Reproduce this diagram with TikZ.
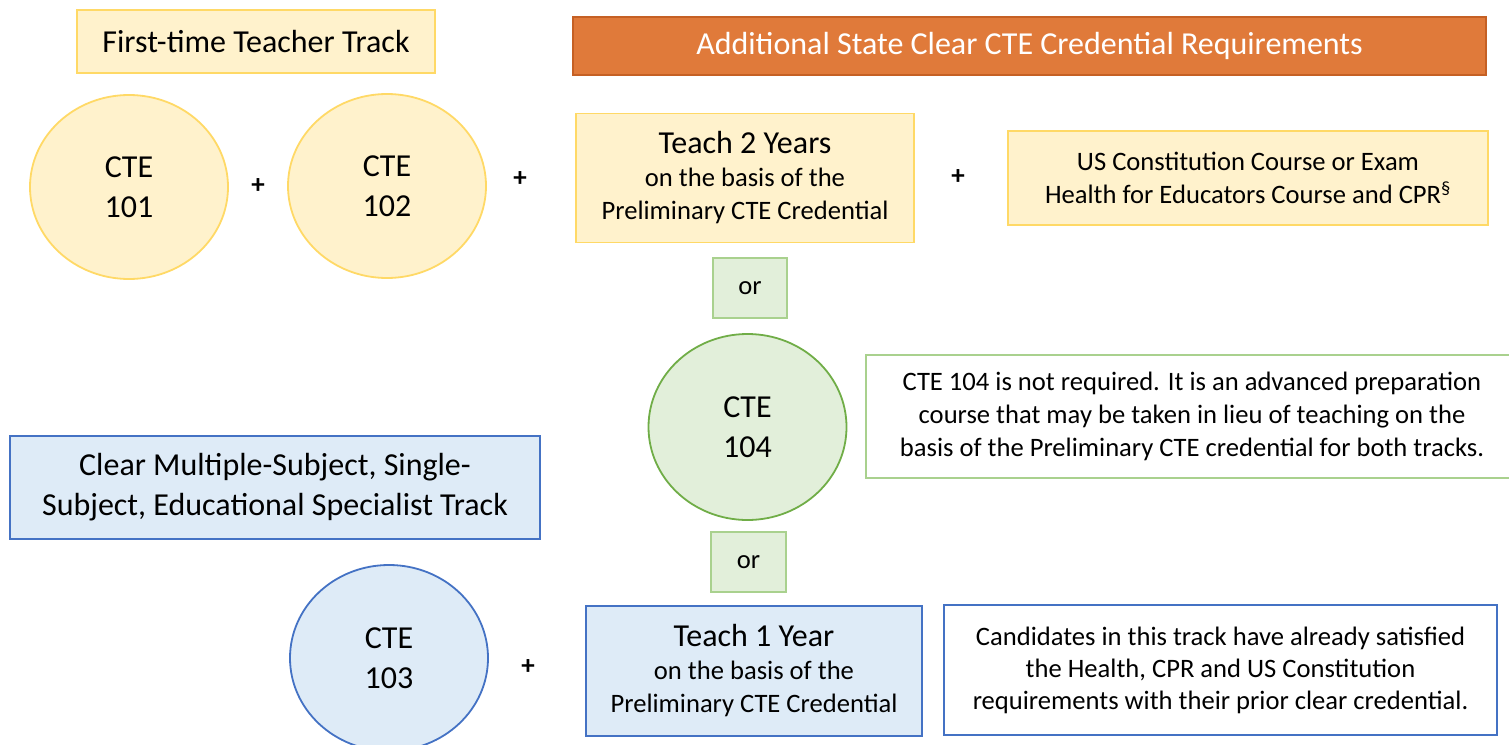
\documentclass[tikz,border=0pt]{standalone}
\usepackage{fontspec}
\setmainfont{Carlito}
\usepackage{tikz}
\usetikzlibrary{shapes.geometric, positioning}
\definecolor{myyellow}{RGB}{255,242,204}
\definecolor{myyellowfr}{RGB}{255,217,102}
\definecolor{myorange}{RGB}{224,122,58}
\definecolor{myorangefr}{RGB}{197,96,36}
\definecolor{mygreen}{RGB}{226,239,218}
\definecolor{mygreenfr}{RGB}{169,209,142}
\definecolor{mygreendk}{RGB}{112,173,71}
\definecolor{myblue}{RGB}{222,235,247}
\definecolor{mybluefr}{RGB}{68,114,196}
\newcommand{\bigtxt}{\fontsize{32}{40}\selectfont}
\newcommand{\smalltxt}{\fontsize{26.6}{33}\selectfont}
\tikzset{
  ybox/.style={rectangle, draw=myyellowfr, fill=myyellow, align=center,
    line width=1.8pt, inner sep=0pt},
  gbox/.style={rectangle, draw=mygreenfr, fill=mygreen, align=center,
    line width=1.8pt, inner sep=0pt, font=\smalltxt},
  bbox/.style={rectangle, draw=mybluefr, fill=myblue, align=center,
    line width=1.8pt, inner sep=0pt},
  course/.style={ellipse, line width=1.8pt, inner sep=0pt,
    minimum width=198pt, minimum height=184pt, align=center, font=\bigtxt},
  plus/.style={font=\fontsize{27}{27}\selectfont\bfseries}
}

\begin{document}
\begin{tikzpicture}[x=1pt, y=1pt]
  \useasboundingbox (0,0) rectangle (1509,-744);

  % ── First-time teacher track ───────────────────────────────────────────────
  \node[ybox, minimum width=358pt, minimum height=63pt, font=\bigtxt]
    (ftrack) at (256,-41.5) {First-time Teacher Track};
  \node[course, draw=myyellowfr, fill=myyellow] (c101) at (129,-187) {CTE\\101};
  \node[course, draw=myyellowfr, fill=myyellow] (c102) at (387,-186) {CTE\\102};
  \node[plus] (p1) at (258,-186) {+};
  \node[plus] (p2) at (520,-179) {+};

  % ── State requirements ─────────────────────────────────────────────────────
  \node[rectangle, draw=myorangefr, fill=myorange, line width=1.2pt,
    minimum width=913pt, minimum height=58pt, font=\bigtxt\color{white}]
    (state) at (1029.5,-46) {Additional State Clear CTE Credential Requirements};
  \node[ybox, minimum width=338pt, minimum height=129pt, font=\smalltxt]
    (teach2) at (745,-178) {{\bigtxt Teach 2 Years}\\on the basis of the\\Preliminary CTE Credential};
  \node[plus] (p3) at (958,-177) {+};
  \node[ybox, minimum width=480pt, minimum height=94pt, font=\smalltxt]
    (uscon) at (1248,-178) {US Constitution Course or Exam\\Health for Educators Course and CPR\textsuperscript{§}};

  % ── CTE 104 alternative ────────────────────────────────────────────────────
  \node[gbox, minimum width=74pt, minimum height=60pt] (or1) at (750,-288) {or};
  \node[course, draw=mygreendk, fill=mygreen, minimum height=186pt]
    (c104) at (747.5,-427) {CTE\\104};
  \node[rectangle, draw=mygreenfr, fill=white, line width=1.8pt, inner sep=0pt,
    minimum width=652pt, minimum height=123pt, align=center, font=\smalltxt]
    (note104) at (1192,-416.5) {CTE 104 is not required. It is an advanced preparation\\course that may be taken in lieu of teaching on the\\basis of the Preliminary CTE credential for both tracks.};
  \node[gbox, minimum width=75pt, minimum height=60pt] (or2) at (748.5,-562) {or};

  % ── Clear credential track ─────────────────────────────────────────────────
  \node[bbox, minimum width=530pt, minimum height=103pt, font=\bigtxt]
    (ctrack) at (275,-487.5) {Clear Multiple-Subject, Single-\\Subject, Educational Specialist Track};
  \node[course, draw=mybluefr, fill=myblue, minimum height=186pt]
    (c103) at (389,-658) {CTE\\103};
  \node[plus] (p4) at (528,-667) {+};
  \node[bbox, minimum width=336pt, minimum height=130pt, font=\smalltxt]
    (teach1) at (754,-671) {{\bigtxt Teach 1 Year}\\on the basis of the\\Preliminary CTE Credential};
  \node[rectangle, draw=mybluefr, fill=white, line width=1.8pt, inner sep=0pt,
    minimum width=553pt, minimum height=130pt, align=center,
    font=\fontsize{26.6}{32}\selectfont]
    (cand) at (1220.5,-670) {Candidates in this track have already satisfied\\the Health, CPR and US Constitution\\requirements with their prior clear credential.};
\end{tikzpicture}
\end{document}
